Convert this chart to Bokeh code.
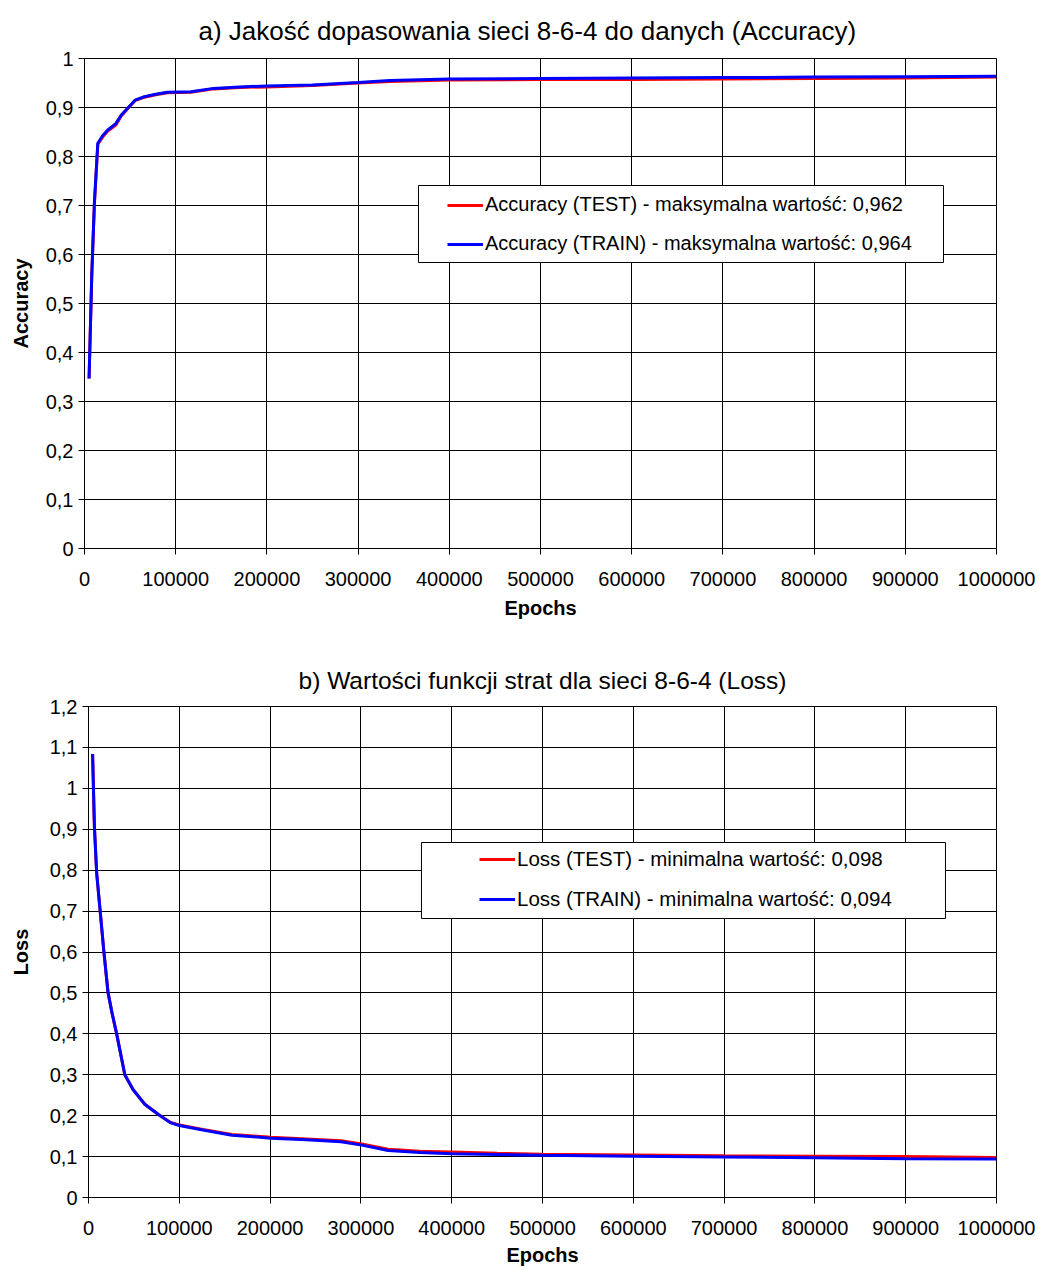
from bokeh.plotting import figure
from bokeh.models import Range1d, FixedTicker, CustomJSTickFormatter, BoxAnnotation
from bokeh.embed import file_html
from bokeh.resources import INLINE

# ---------------- data ----------------
acc_epochs = [5000, 8000, 10900, 14600, 20000, 25500, 34300, 40100, 47000, 55400, 65600,
              78000, 91000, 116700, 141500, 170000, 200000, 250000, 300000, 335000, 400000,
              500000, 600000, 700000, 800000, 900000, 1000000]
acc_train = [0.347, 0.56, 0.708, 0.827, 0.843, 0.854, 0.867, 0.884, 0.898, 0.915, 0.922,
             0.927, 0.931, 0.932, 0.939, 0.942, 0.944, 0.946, 0.951, 0.955, 0.958,
             0.959, 0.960, 0.961, 0.962, 0.963, 0.964]
acc_test = [0.347, 0.56, 0.705, 0.825, 0.840, 0.852, 0.864, 0.882, 0.897, 0.914, 0.921,
            0.926, 0.930, 0.931, 0.938, 0.941, 0.942, 0.945, 0.950, 0.953, 0.956,
            0.957, 0.957, 0.958, 0.959, 0.960, 0.962]

loss_epochs = [4500, 6500, 9000, 13000, 17000, 21500, 26000, 31000, 40000, 49000, 62000,
               77000, 90000, 100000, 126000, 158000, 178000, 201000, 240000, 278000, 301000,
               330000, 365000, 400000, 450000, 500000, 600000, 700000, 800000, 900000, 1000000]
loss_train = [1.084, 0.907, 0.793, 0.696, 0.599, 0.501, 0.45, 0.40, 0.30, 0.264, 0.228,
              0.203, 0.183, 0.176, 0.165, 0.152, 0.149, 0.145, 0.141, 0.136, 0.128,
              0.115, 0.110, 0.107, 0.105, 0.103, 0.101, 0.099, 0.097, 0.095, 0.094]
loss_test = [1.084, 0.907, 0.793, 0.696, 0.599, 0.501, 0.45, 0.40, 0.30, 0.264, 0.228,
             0.203, 0.184, 0.177, 0.166, 0.154, 0.151, 0.147, 0.143, 0.139, 0.131,
             0.118, 0.113, 0.111, 0.108, 0.106, 0.104, 0.102, 0.101, 0.100, 0.098]

x_ticks = [0, 100000, 200000, 300000, 400000, 500000, 600000, 700000, 800000, 900000, 1000000]
acc_ticks = [0, 0.1, 0.2, 0.3, 0.4, 0.5, 0.6, 0.7, 0.8, 0.9, 1.0]
loss_ticks = [0, 0.1, 0.2, 0.3, 0.4, 0.5, 0.6, 0.7, 0.8, 0.9, 1.0, 1.1, 1.2]

titles = ["a) Jakość dopasowania sieci 8-6-4 do danych (Accuracy)",
          "b) Wartości funkcji strat dla sieci 8-6-4 (Loss)"]
acc_labels = ["Accuracy (TEST) - maksymalna wartość: 0,962",
              "Accuracy (TRAIN) - maksymalna wartość: 0,964"]
loss_labels = ["Loss (TEST) - minimalna wartość: 0,098",
               "Loss (TRAIN) - minimalna wartość: 0,094"]
x_title = "Epochs"

FONT = "Liberation Sans"
RED = "#FF0000"
BLUE = "#0000FF"

yfmt = CustomJSTickFormatter(code="var s = (Math.round(tick*10)/10).toString(); return s.replace('.', ',');")
xfmt = CustomJSTickFormatter(code="return Math.round(tick).toString();")


def style(p, yticks, ylabel, tick_standoff, ylabel_standoff, title_size):
    p.title.text_font = FONT
    p.title.text_font_size = title_size
    p.title.text_font_style = "normal"
    p.title.text_color = "black"
    p.title.standoff = 26
    p.outline_line_color = "black"
    p.outline_line_width = 1
    p.background_fill_color = "white"
    p.border_fill_color = "white"
    for ax in (p.xaxis[0], p.yaxis[0]):
        ax.axis_line_color = "black"
        ax.major_tick_line_color = "black"
        ax.major_tick_out = 6
        ax.major_tick_in = 0
        ax.minor_tick_line_color = None
        ax.major_label_text_font = FONT
        ax.major_label_text_font_size = "20px"
        ax.major_label_text_color = "black"
        ax.axis_label_text_font = FONT
        ax.axis_label_text_font_size = "20px"
        ax.axis_label_text_font_style = "bold"
        ax.axis_label_text_color = "black"
    p.xaxis[0].ticker = FixedTicker(ticks=x_ticks)
    p.xaxis[0].formatter = xfmt
    p.xaxis[0].axis_label = x_title
    p.xaxis[0].major_label_standoff = tick_standoff
    p.yaxis[0].ticker = FixedTicker(ticks=yticks)
    p.yaxis[0].formatter = yfmt
    p.yaxis[0].axis_label = ylabel
    p.yaxis[0].major_label_standoff = 5
    p.yaxis[0].axis_label_standoff = ylabel_standoff
    for g in (p.xgrid[0], p.ygrid[0]):
        g.grid_line_color = "black"
        g.grid_line_width = 1
        g.grid_line_alpha = 1


def legend_style(p, loc, size):
    lg = p.legend[0]
    lg.location = loc
    lg.label_text_font = FONT
    lg.label_text_font_size = size
    lg.label_text_color = "black"
    lg.glyph_width = 36
    lg.label_standoff = 2
    lg.padding = 8
    lg.spacing = 16
    lg.border_line_alpha = 0
    lg.background_fill_alpha = 0


# ---------------- chart a ----------------
p1 = figure(width=1036, height=648, title=titles[0],
            x_range=Range1d(0, 1000000), y_range=Range1d(0, 1),
            min_border_left=84, min_border_right=40, min_border_top=58, min_border_bottom=100,
            output_backend="svg", toolbar_location=None)
style(p1, acc_ticks, "Accuracy", 17, 11, "26px")
p1.title.align = "left"
p1.title.offset = 114
p1.xaxis[0].axis_label_standoff = 8
p1.add_layout(BoxAnnotation(left=366200, right=941900, bottom=0.5837, top=0.7408,
                            fill_color="white", fill_alpha=1,
                            line_color="black", line_width=1, line_alpha=1))
p1.line(acc_epochs, acc_test, color=RED, line_width=3, legend_label=acc_labels[0])
p1.line(acc_epochs, acc_train, color=BLUE, line_width=3, legend_label=acc_labels[1])
legend_style(p1, (355, 285), "20px")

# ---------------- chart b ----------------
p2 = figure(width=1036, height=622, title=titles[1],
            x_range=Range1d(0, 1000000), y_range=Range1d(0, 1.2),
            min_border_left=88, min_border_right=40, min_border_top=58, min_border_bottom=73,
            output_backend="svg", toolbar_location=None)
style(p2, loss_ticks, "Loss", 17, 15, "24.5px")
p2.title.align = "center"
p2.xaxis[0].axis_label_standoff = 6
p2.xaxis[0].axis_label_text_line_height = 0.9
p2.add_layout(BoxAnnotation(left=366700, right=943800, bottom=0.6818, top=0.8676,
                            fill_color="white", fill_alpha=1,
                            line_color="black", line_width=1, line_alpha=1))
p2.line(loss_epochs, loss_test, color=RED, line_width=3, legend_label=loss_labels[0])
p2.line(loss_epochs, loss_train, color=BLUE, line_width=3, legend_label=loss_labels[1])
legend_style(p2, (383, 278), "20.5px")

open("out.html", "w").write(file_html([p1, p2], INLINE))
